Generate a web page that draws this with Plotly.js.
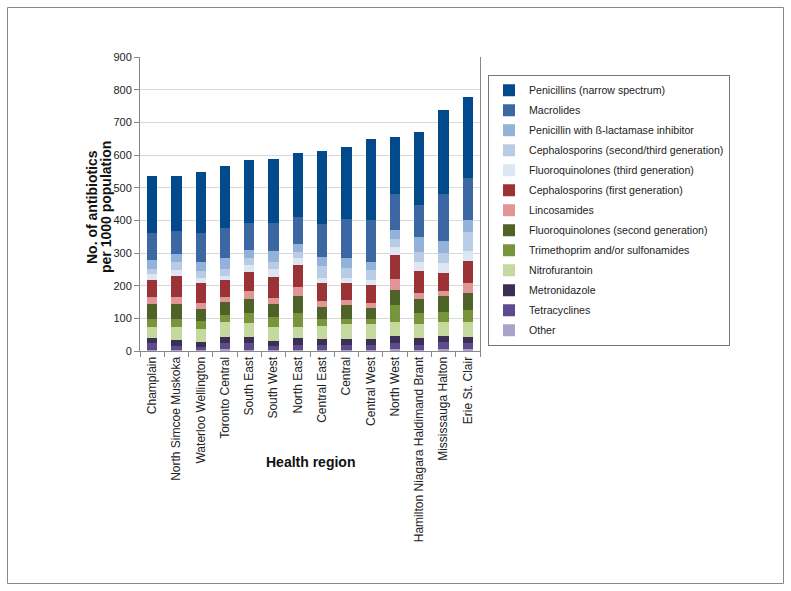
<!DOCTYPE html>
<html>
<head>
<meta charset="utf-8">
<script src="https://cdn.plot.ly/plotly-3.0.1.min.js"></script>
<style>html,body{margin:0;padding:0;background:#fff;}#chart{width:791px;height:591px;}</style>
</head>
<body>
<div id="chart"></div>
<script>
const regions = ["Champlain","North Simcoe Muskoka","Waterloo Wellington","Toronto Central","South East","South West","North East","Central East","Central","Central West","North West","Hamilton Niagara Haldimand Brant","Mississauga Halton","Erie St. Clair"];

// values per 1000 population, bottom of stack first
const other          = [4, 4, 4, 5, 4, 4, 4, 4, 4, 4, 5, 4, 6, 6];
const tetracyclines  = [19, 12, 8, 20, 19, 12, 13, 14, 14, 15, 20, 15, 22, 17];
const metronidazole  = [17, 18, 16, 19, 19, 16, 22, 19, 18, 19, 21, 20, 18, 19];
const nitrofurantoin = [34, 39, 39, 46, 43, 40, 35, 41, 46, 44, 42, 44, 44, 46];
const trimethoprim   = [25, 26, 24, 20, 30, 31, 43, 20, 17, 15, 53, 32, 30, 36];
const fluoroq2       = [46, 46, 38, 40, 43, 41, 51, 36, 41, 35, 46, 44, 48, 55];
const lincosamides   = [19, 20, 19, 16, 25, 17, 29, 19, 16, 14, 32, 20, 16, 30];
const cephalo1       = [54, 65, 61, 50, 60, 67, 66, 56, 51, 55, 75, 66, 54, 67];
const fluoroq3       = [17, 17, 16, 15, 20, 23, 21, 16, 18, 16, 25, 28, 30, 31];
const cephalo23      = [17, 24, 21, 21, 21, 22, 20, 36, 28, 30, 23, 30, 31, 56];
const penBLI         = [27, 26, 27, 33, 25, 33, 23, 28, 31, 25, 28, 47, 37, 37];
const macrolides     = [81, 71, 88, 93, 84, 85, 83, 101, 120, 129, 111, 97, 146, 129];
const penNarrow      = [175, 169, 186, 187, 191, 196, 195, 221, 219, 248, 173, 222, 257, 249];

const seriesNames = ["Other","Tetracyclines","Metronidazole","Nitrofurantoin","Trimethoprim and/or sulfonamides","Fluoroquinolones (second generation)","Lincosamides","Cephalosporins (first generation)","Fluoroquinolones (third generation)","Cephalosporins (second/third generation)","Penicillin with \u00DF-lactamase inhibitor","Macrolides","Penicillins (narrow spectrum)"];
const seriesValues = [other, tetracyclines, metronidazole, nitrofurantoin, trimethoprim, fluoroq2, lincosamides, cephalo1, fluoroq3, cephalo23, penBLI, macrolides, penNarrow];
const seriesColors = ["#a9a3cc","#5e4a8c","#3b2f55","#c5d89d","#77963b","#4f6228","#e09696","#9b3236","#dde6f3","#b8cce6","#92b2da","#3b68a3","#024a8c"];
const yTitleLines = ["No. of antibiotics", "per 1000 population"];

const nSeries = seriesNames.length;
const traces = seriesNames.map((n, i) => ({
  type: 'bar',
  name: n,
  x: regions,
  y: seriesValues[i],
  marker: {color: seriesColors[i], line: {width: 0}},
  legendgroup: 'g' + i,
  legendrank: nSeries - i,
  hoverinfo: 'x+y+name'
}));

const fontFam = '"Liberation Sans", Arial, sans-serif';
const titleFont = {size: 14, family: fontFam, color: '#111', weight: 'bold'};
const layout = {
  width: 791, height: 591,
  margin: {l: 140, r: 311, t: 57, b: 240},
  barmode: 'stack',
  bargap: 0.58,
  paper_bgcolor: '#ffffff',
  plot_bgcolor: '#ffffff',
  font: {family: fontFam, color: '#222', size: 12},
  showlegend: true,
  legend: {
    x: (488 - 140) / 340, xanchor: 'left', y: 0.94, yanchor: 'top',
    traceorder: 'grouped',
    tracegroupgap: 1,
    itemwidth: 30,
    font: {size: 10.6, family: fontFam, color: '#222'},
    bordercolor: '#777', borderwidth: 1, bgcolor: '#ffffff'
  },
  xaxis: {
    type: 'category',
    tickangle: -90,
    tickfont: {size: 12, family: fontFam, color: '#222'},
    ticks: 'outside', tickson: 'boundaries', ticklen: 5, tickcolor: '#888',
    showline: true, linecolor: '#888', linewidth: 1,
    showgrid: false, fixedrange: true
  },
  yaxis: {
    range: [0, 900], dtick: 100,
    tickfont: {size: 11, family: fontFam, color: '#222'},
    ticks: 'outside', ticklen: 5, tickcolor: '#888',
    showline: true, linecolor: '#888', linewidth: 1, mirror: true,
    showgrid: true, gridcolor: '#d9d9d9', gridwidth: 1,
    zeroline: false
  },
  annotations: [{
    text: 'Health region', xref: 'paper', yref: 'paper',
    x: 0.5, y: (351 - 462) / 294, xanchor: 'center', yanchor: 'middle',
    showarrow: false, font: titleFont
  }, {
    text: yTitleLines[0], xref: 'paper', yref: 'paper',
    x: (92 - 140) / 340, y: (351 - 207) / 294, xanchor: 'center', yanchor: 'middle',
    textangle: -90, showarrow: false, font: titleFont
  }, {
    text: yTitleLines[1], xref: 'paper', yref: 'paper',
    x: (106 - 140) / 340, y: (351 - 207) / 294, xanchor: 'center', yanchor: 'middle',
    textangle: -90, showarrow: false, font: titleFont
  }],
  shapes: [{
    type: 'rect', xref: 'paper', yref: 'paper',
    x0: (7.5 - 140) / 340, x1: (783.5 - 140) / 340,
    y0: (351 - 583.5) / 294, y1: (351 - 7.5) / 294,
    line: {color: '#888', width: 1}, fillcolor: 'rgba(0,0,0,0)'
  }]
};

Plotly.newPlot('chart', traces, layout, {displayModeBar: false, staticPlot: true});
</script>
</body>
</html>
